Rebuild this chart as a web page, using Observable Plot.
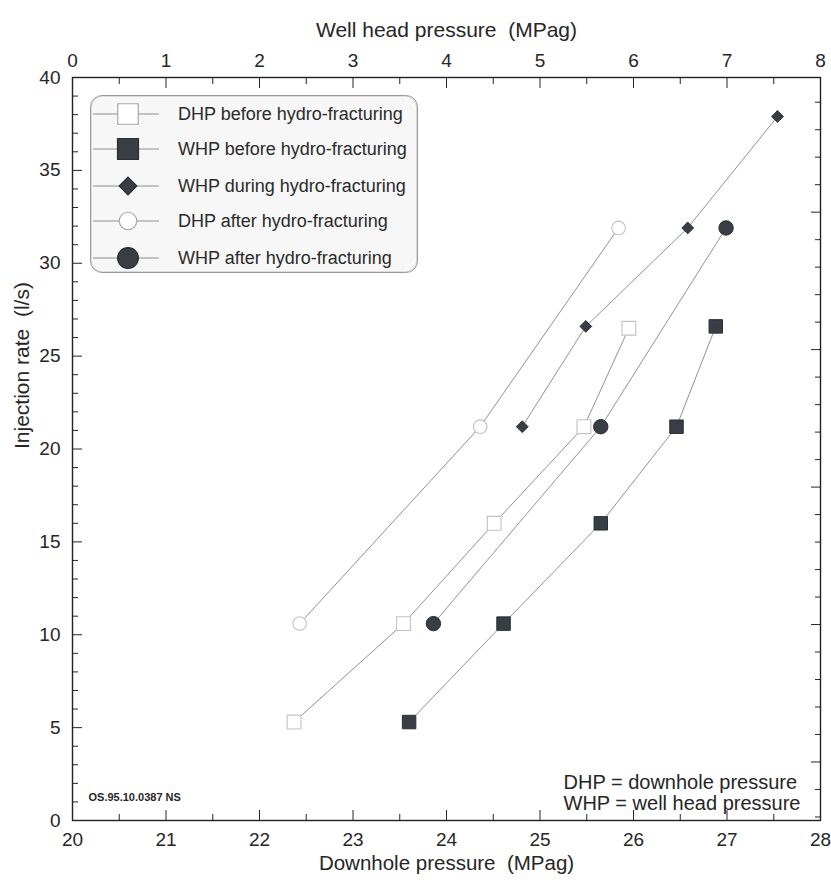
<!DOCTYPE html>
<html>
<head>
<meta charset="utf-8">
<script src="https://cdn.jsdelivr.net/npm/d3@7"></script>
<script src="https://cdn.jsdelivr.net/npm/@observablehq/plot@0.6"></script>
<style>
  html, body { margin: 0; padding: 0; background: #fff; }
  #wrap { position: relative; width: 831px; height: 880px; font-family: "Liberation Sans", Arial, sans-serif; color: #222; }
  #legend { position: absolute; left: 90px; top: 95px; width: 328px; height: 178px;
    border: 1px solid #9a9a9a; border-radius: 12px; background: #f7f7f7; box-sizing: border-box;
    box-shadow: inset 0 0 0 1px #dcdcdc; }
  .row { position: absolute; left: 2px; height: 24px; display: flex; align-items: center; }
  .row svg { width: 66px; height: 24px; }
  .row span { margin-left: 19px; font-size: 18px; color: #2a2a2a; white-space: nowrap; }
</style>
</head>
<body>
<div id="wrap"><div id="legend"></div></div>
<script>
// Injection rate (l/s) against downhole / well head pressure (MPag)
const seriesNames = [
  "DHP before hydro-fracturing",
  "WHP before hydro-fracturing",
  "WHP during hydro-fracturing",
  "DHP after hydro-fracturing",
  "WHP after hydro-fracturing"
];

// DHP before hydro-fracturing (downhole pressure, MPag)
const dhpBefore = [22.37, 23.54, 24.51, 25.47, 25.95];
const rateDhpBefore = [5.3, 10.6, 16.0, 21.2, 26.5];
// WHP before hydro-fracturing (well head pressure, MPag)
const whpBefore = [3.60, 4.61, 5.65, 6.46, 6.88];
const rateWhpBefore = [5.3, 10.6, 16.0, 21.2, 26.6];
// WHP during hydro-fracturing
const whpDuring = [4.81, 5.49, 6.58, 7.54];
const rateWhpDuring = [21.2, 26.6, 31.9, 37.9];
// DHP after hydro-fracturing
const dhpAfter = [22.43, 24.36, 25.84];
const rateDhpAfter = [10.6, 21.2, 31.9];
// WHP after hydro-fracturing
const whpAfter = [3.86, 5.65, 6.99];
const rateWhpAfter = [10.6, 21.2, 31.9];

// Axis ticks
const dhpTicks = [20, 21, 22, 23, 24, 25, 26, 27, 28];
const dhpMinorTicks = [20.5, 21.5, 22.5, 23.5, 24.5, 25.5, 26.5, 27.5];
const whpTicks = [0, 1, 2, 3, 4, 5, 6, 7, 8];
const whpMinorTicks = [0.5, 1.5, 2.5, 3.5, 4.5, 5.5, 6.5, 7.5];
const rateTicks = [0, 5, 10, 15, 20, 25, 30, 35, 40];
const rateMinorTicks = [1,2,3,4,6,7,8,9,11,12,13,14,16,17,18,19,21,22,23,24,26,27,28,29,31,32,33,34,36,37,38,39];
// right-hand axis carries its own unlabeled tick set
const rightTicks = [3.15, 10.55, 17.95, 25.35, 32.75];
const rightMinorTicks = [0.19, 1.67, 4.63, 6.11, 7.59, 9.07, 12.03, 13.51, 14.99, 16.47, 19.43, 20.91, 22.39, 23.87, 26.83, 28.31, 29.79, 31.27, 34.23, 35.71, 37.19, 38.67];

// the well head pressure axis (0–8) shares the frame with downhole pressure (20–28)
const WHP_OFFSET = 20;
const toRows = (p, r, offset = 0) => p.map((v, i) => ({x: v + offset, y: r[i]}));

const sDhpBefore = toRows(dhpBefore, rateDhpBefore);
const sWhpBefore = toRows(whpBefore, rateWhpBefore, WHP_OFFSET);
const sWhpDuring = toRows(whpDuring, rateWhpDuring, WHP_OFFSET);
const sDhpAfter = toRows(dhpAfter, rateDhpAfter);
const sWhpAfter = toRows(whpAfter, rateWhpAfter, WHP_OFFSET);

const lineStroke = "#929292";
const openStroke = "#c2c2c2";
const darkFill = "#393e45";
const textColor = "#262626";

const font = "'Liberation Sans', Arial, sans-serif";

const chart = Plot.plot({
  width: 831,
  height: 880,
  marginLeft: 72,
  marginRight: 11,
  marginTop: 77,
  marginBottom: 60,
  x: {domain: [20, 28]},
  y: {domain: [0, 40]},
  style: {fontFamily: font, fontSize: "19px", color: textColor, background: "#fff", overflow: "visible"},
  marks: [
    // bottom axis
    Plot.axisX({anchor: "bottom", ticks: dhpTicks, tickSize: 0, tickPadding: 12, label: null, tickFormat: d => d}),
    Plot.axisX({anchor: "bottom", ticks: dhpTicks, tickSize: -10, text: null, label: null}),
    Plot.axisX({anchor: "bottom", ticks: dhpMinorTicks, tickSize: -6, text: null, label: null}),
    // top axis (well head pressure)
    Plot.axisX({anchor: "top", ticks: whpTicks.map(d => d + WHP_OFFSET), tickSize: 0, tickPadding: 11, label: null, tickFormat: d => d - WHP_OFFSET}),
    Plot.axisX({anchor: "top", ticks: whpTicks.map(d => d + WHP_OFFSET), tickSize: -10, text: null, label: null}),
    Plot.axisX({anchor: "top", ticks: whpMinorTicks.map(d => d + WHP_OFFSET), tickSize: -6, text: null, label: null}),
    // left axis
    Plot.axisY({anchor: "left", ticks: rateTicks, tickSize: 0, tickPadding: 12, label: null}),
    Plot.axisY({anchor: "left", ticks: rateTicks, tickSize: -10, text: null, label: null}),
    Plot.axisY({anchor: "left", ticks: rateMinorTicks, tickSize: -6, text: null, label: null}),
    // right axis ticks only
    Plot.axisY({anchor: "right", ticks: rightTicks, tickSize: -10, text: null, label: null}),
    Plot.axisY({anchor: "right", ticks: rightMinorTicks, tickSize: -6, text: null, label: null}),
    Plot.frame({stroke: "#222", strokeWidth: 1.4}),

    // axis titles
    Plot.text(["Downhole pressure  (MPag)"], {frameAnchor: "bottom", dy: 49, fontSize: 20.5, fill: textColor}),
    Plot.text(["Well head pressure  (MPag)"], {frameAnchor: "top", dy: -55, fontSize: 21, fill: textColor}),
    Plot.text(["Injection rate  (l/s)"], {frameAnchor: "left", dx: -50, rotate: -90, fontSize: 21, fill: textColor}),

    // notes
    Plot.text(["DHP = downhole pressure\nWHP = well head pressure"], {
      frameAnchor: "bottom-right", textAnchor: "start", lineAnchor: "bottom",
      dx: -257, dy: -11, lineHeight: 1.05, fontSize: 20, fill: textColor
    }),
    Plot.text(["OS.95.10.0387 NS"], {
      frameAnchor: "bottom-left", textAnchor: "start", dx: 16, dy: -20,
      fontSize: 11, fontWeight: "bold", fill: textColor, fontFamily: "'Liberation Sans Narrow', 'Liberation Sans', sans-serif"
    }),

    // connecting lines
    Plot.line(sDhpBefore, {x: "x", y: "y", stroke: lineStroke, strokeWidth: 1}),
    Plot.line(sWhpBefore, {x: "x", y: "y", stroke: lineStroke, strokeWidth: 1}),
    Plot.line(sWhpDuring, {x: "x", y: "y", stroke: lineStroke, strokeWidth: 1}),
    Plot.line(sDhpAfter, {x: "x", y: "y", stroke: lineStroke, strokeWidth: 1}),
    Plot.line(sWhpAfter, {x: "x", y: "y", stroke: lineStroke, strokeWidth: 1}),

    // markers
    Plot.dot(sDhpBefore, {x: "x", y: "y", symbol: "square", r: 7.8, fill: "#fff", stroke: openStroke, strokeWidth: 1.1}),
    Plot.dot(sWhpBefore, {x: "x", y: "y", symbol: "square", r: 7.6, fill: darkFill, stroke: "#2a2e33", strokeWidth: 1}),
    Plot.dot(sWhpDuring, {x: "x", y: "y", symbol: "diamond2", r: 5.3, fill: darkFill, stroke: "#2a2e33", strokeWidth: 1}),
    Plot.dot(sDhpAfter, {x: "x", y: "y", symbol: "circle", r: 6.8, fill: "#fff", stroke: openStroke, strokeWidth: 1.1}),
    Plot.dot(sWhpAfter, {x: "x", y: "y", symbol: "circle", r: 7.2, fill: darkFill, stroke: "#2a2e33", strokeWidth: 1})
  ]
});

const wrap = document.getElementById("wrap");
wrap.insertBefore(chart, wrap.firstChild);

// legend: line segment with the series marker, then the series name
const legendStyles = [
  {type: d3.symbolSquare, size: 420, fill: "#fff", stroke: "#a8a8a8"},
  {type: d3.symbolSquare, size: 440, fill: darkFill, stroke: "#2a2e33"},
  {type: d3.symbolDiamond2, size: 200, fill: darkFill, stroke: "#2a2e33"},
  {type: d3.symbolCircle, size: 240, fill: "#fff", stroke: "#a8a8a8"},
  {type: d3.symbolCircle, size: 340, fill: darkFill, stroke: "#2a2e33"}
];
const rowTops = [6, 41, 78, 113, 150];
const legend = d3.select("#legend");
seriesNames.forEach((name, i) => {
  const st = legendStyles[i];
  const row = legend.append("div").attr("class", "row").style("top", rowTops[i] + "px");
  const svg = row.append("svg").attr("viewBox", "0 0 66 24");
  svg.append("line").attr("x1", 0).attr("x2", 66).attr("y1", 12).attr("y2", 12)
    .attr("stroke", "#8e8e8e").attr("stroke-width", 1);
  svg.append("path").attr("transform", "translate(35,12)")
    .attr("d", d3.symbol(st.type, st.size)())
    .attr("fill", st.fill).attr("stroke", st.stroke).attr("stroke-width", 1.2);
  row.append("span").text(name);
});
</script>
</body>
</html>
